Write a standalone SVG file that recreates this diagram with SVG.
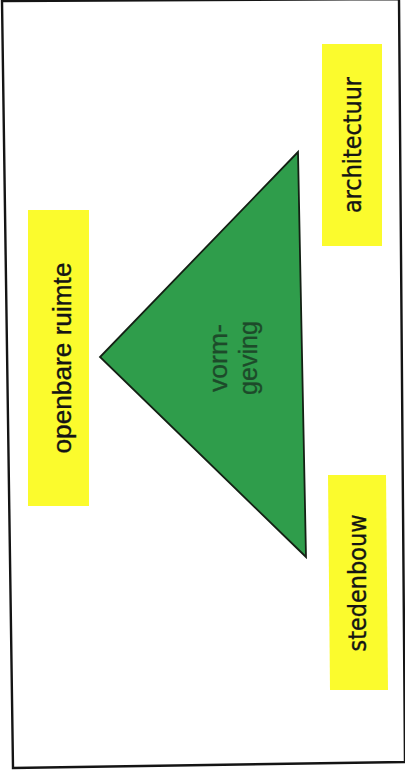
<svg xmlns="http://www.w3.org/2000/svg" width="405" height="776" viewBox="0 0 405 776">
<style>
.box{fill:#fbfb2d;}
.lbl{font-family:"Liberation Sans",Arial,sans-serif;fill:#141414;stroke:#141414;stroke-width:0.35;text-anchor:middle;}
.lbl2{font-family:"DejaVu Sans",Verdana,sans-serif;fill:#141414;stroke:#141414;stroke-width:0.35;text-anchor:middle;}
.tri{fill:#2f9d4b;stroke:#142014;stroke-width:1.8;stroke-linejoin:miter;}
.inner{font-family:"Liberation Sans",Arial,sans-serif;fill:#1d4a2a;stroke:#1d4a2a;stroke-width:0.3;text-anchor:middle;}
</style>
<rect x="0" y="0" width="405" height="776" fill="#ffffff"/>
<polygon points="2,1 399,-1 405,762 13,768" fill="#ffffff" stroke="#141414" stroke-width="2.4"/>
<g id="vormgeving">
<polygon class="tri" points="298,152 100,357 306,557"/>
<text class="inner" font-size="26" transform="translate(227,358) rotate(-90)" textLength="68" lengthAdjust="spacingAndGlyphs">vorm-</text>
<text class="inner" font-size="26" transform="translate(257,358) rotate(-90)" textLength="74" lengthAdjust="spacingAndGlyphs">geving</text>
</g>
<g id="architectuur">
<rect class="box" x="322" y="44" width="60" height="202"/>
<text class="lbl2" font-size="24" transform="translate(361,145) rotate(-90)" textLength="136" lengthAdjust="spacingAndGlyphs">architectuur</text>
</g>
<g id="openbare-ruimte">
<rect class="box" x="28" y="210" width="61" height="296"/>
<text class="lbl" font-size="25" transform="translate(71,358) rotate(-90)" textLength="191" lengthAdjust="spacingAndGlyphs">openbare ruimte</text>
</g>
<g id="stedenbouw">
<polygon class="box" points="328,475 386,475 388,690 330,690"/>
<text class="lbl2" font-size="25" transform="translate(366,583) rotate(-90)" textLength="137" lengthAdjust="spacingAndGlyphs">stedenbouw</text>
</g>
<g id="connectors"></g>
</svg>
